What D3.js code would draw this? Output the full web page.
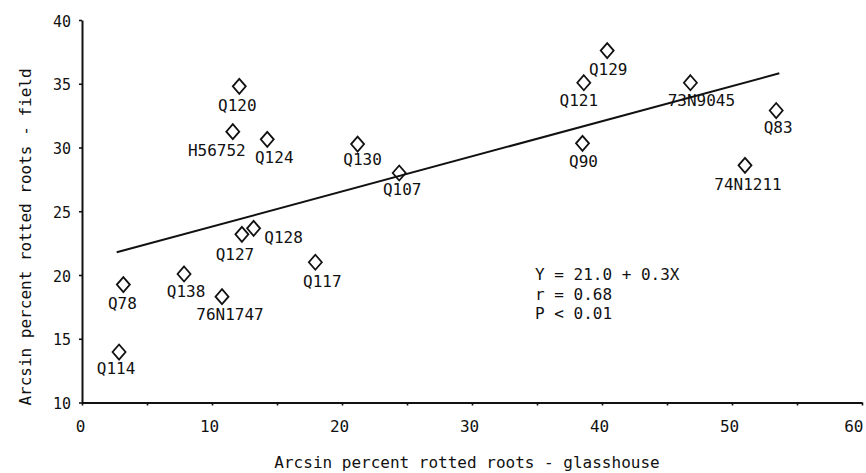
<!DOCTYPE html>
<html>
<head>
<meta charset="utf-8">
<script src="https://cdn.jsdelivr.net/npm/d3@7"></script>
<style>
  body { margin: 0; background: #fff; }
  text { font-family: "DejaVu Sans Mono", monospace; fill: #111; }
</style>
</head>
<body>
<script>
// lines / genotypes
const names = ['Q120', 'H56752', 'Q124', 'Q130', 'Q107', 'Q128', 'Q127', 'Q129', 'Q121',
    '73N9045', 'Q83', 'Q90', '74N1211', 'Q78', 'Q138', '76N1747', 'Q117', 'Q114']
const glasshouse = [12.1, 11.6, 14.25, 21.2, 24.4, 13.2, 12.3, 40.4, 38.6,
    46.8, 53.4, 38.5, 51.0, 3.18, 7.85, 10.77, 17.95, 2.85]
const field = [34.8, 31.24, 30.64, 30.27, 28.0, 23.66, 23.19, 37.6, 35.08,
    35.08, 32.9, 30.33, 28.6, 19.25, 20.08, 18.3, 21.0, 13.96]

// regression line ends as drawn
const fitX = [2.67, 53.64]
const fitY = [21.78, 35.82]

const xTicks = [0, 5, 10, 15, 20, 25, 30, 35, 40, 45, 50, 55, 60]
const yTicks = [10, 15, 20, 25, 30, 35, 40]
const statLines = ['Y = 21.0 + 0.3X', 'r = 0.68', 'P < 0.01']

// label nudges (dx, dy from the diamond centre)
const labelNudge = {
    'Q120': [-2, 25], 'H56752': [-16, 24], 'Q124': [7, 24], 'Q130': [5, 21],
    'Q107': [3, 22], 'Q128': [30, 15], 'Q127': [-7, 26], 'Q129': [1, 24],
    'Q121': [-5, 23], '73N9045': [11, 23], 'Q83': [2, 22], 'Q90': [1, 24],
    '74N1211': [3, 25], 'Q78': [-1, 24], 'Q138': [2, 23], '76N1747': [8, 23],
    'Q117': [7, 25], 'Q114': [-3, 22]
}

//------------------------------------------------------------------------------

const width = 866
const height = 473

const svg = d3.select('body')
    .append('svg')
    .attr('width', width)
    .attr('height', height)

const x = d3.scaleLinear().domain([0, 60]).range([82, 862])
const y = d3.scaleLinear().domain([10, 40]).range([402.5, 20])

//------------------------------------------------------------------------------

const xAxis = svg.append('g')
    .attr('transform', 'translate(0,' + y(10) + ')')
    .call(d3.axisBottom(x)
        .tickValues(xTicks)
        .tickSize(3)
        .tickSizeOuter(0)
        .tickFormat(d => d % 10 === 0 ? d : ''))

xAxis.select('.domain').attr('stroke-width', 2).attr('stroke', '#111')
xAxis.selectAll('.tick line').attr('stroke-width', 1.6).attr('stroke', '#111')
xAxis.selectAll('.tick text')
    .attr('y', 29)
    .attr('dy', 0)
    .attr('dx', d => d === 60 ? 1 : (d === 0 ? -2 : -3))
    .attr('text-anchor', d => d === 60 ? 'end' : 'middle')
    .style('font-size', '16px')
    .style('font-family', '"DejaVu Sans Mono", monospace')
    .attr('fill', '#111')

const yAxis = svg.append('g')
    .attr('transform', 'translate(' + x(0) + ',0)')
    .call(d3.axisLeft(y)
        .tickValues(yTicks)
        .tickSize(3)
        .tickSizeOuter(0)
        .tickPadding(8))

yAxis.select('.domain').attr('stroke-width', 2).attr('stroke', '#111')
yAxis.selectAll('.tick line').attr('stroke-width', 1.6).attr('stroke', '#111')
yAxis.selectAll('.tick text')
    .attr('dy', '0.4em')
    .style('font-size', '15px')
    .style('font-family', '"DejaVu Sans Mono", monospace')
    .attr('fill', '#111')

//------------------------------------------------------------------------------

svg.append('text')
    .attr('text-anchor', 'middle')
    .attr('x', 467)
    .attr('y', 468)
    .style('font-size', '16px')
    .text('Arcsin percent rotted roots - glasshouse')

svg.append('text')
    .attr('text-anchor', 'middle')
    .attr('transform', 'translate(31,237) rotate(-90)')
    .style('font-size', '16px')
    .text('Arcsin percent rotted roots - field')

//------------------------------------------------------------------------------

svg.append('line')
    .attr('x1', x(fitX[0]))
    .attr('y1', y(fitY[0]))
    .attr('x2', x(fitX[1]))
    .attr('y2', y(fitY[1]))
    .attr('stroke', '#111')
    .attr('stroke-width', 2)

const pts = names.map((n, i) => ({ name: n, gx: glasshouse[i], fy: field[i] }))

function diamond(w, h) {
    return 'M0,' + (-h / 2) + 'L' + (w / 2) + ',0L0,' + (h / 2) + 'L' + (-w / 2) + ',0Z'
}

svg.append('g')
    .selectAll('path')
    .data(pts)
    .join('path')
    .attr('transform', d => 'translate(' + x(d.gx) + ',' + y(d.fy) + ')')
    .attr('d', diamond(13, 15))
    .attr('fill', 'none')
    .attr('stroke', '#111')
    .attr('stroke-width', 1.8)

svg.append('g')
    .selectAll('text')
    .data(pts)
    .join('text')
    .attr('text-anchor', 'middle')
    .attr('x', d => x(d.gx) + labelNudge[d.name][0])
    .attr('y', d => y(d.fy) + labelNudge[d.name][1])
    .style('font-size', '16px')
    .text(d => d.name)

svg.append('g')
    .selectAll('text')
    .data(statLines)
    .join('text')
    .attr('x', 535)
    .attr('y', (d, i) => 280 + i * 19.5)
    .style('font-size', '16px')
    .text(d => d)
</script>
</body>
</html>
